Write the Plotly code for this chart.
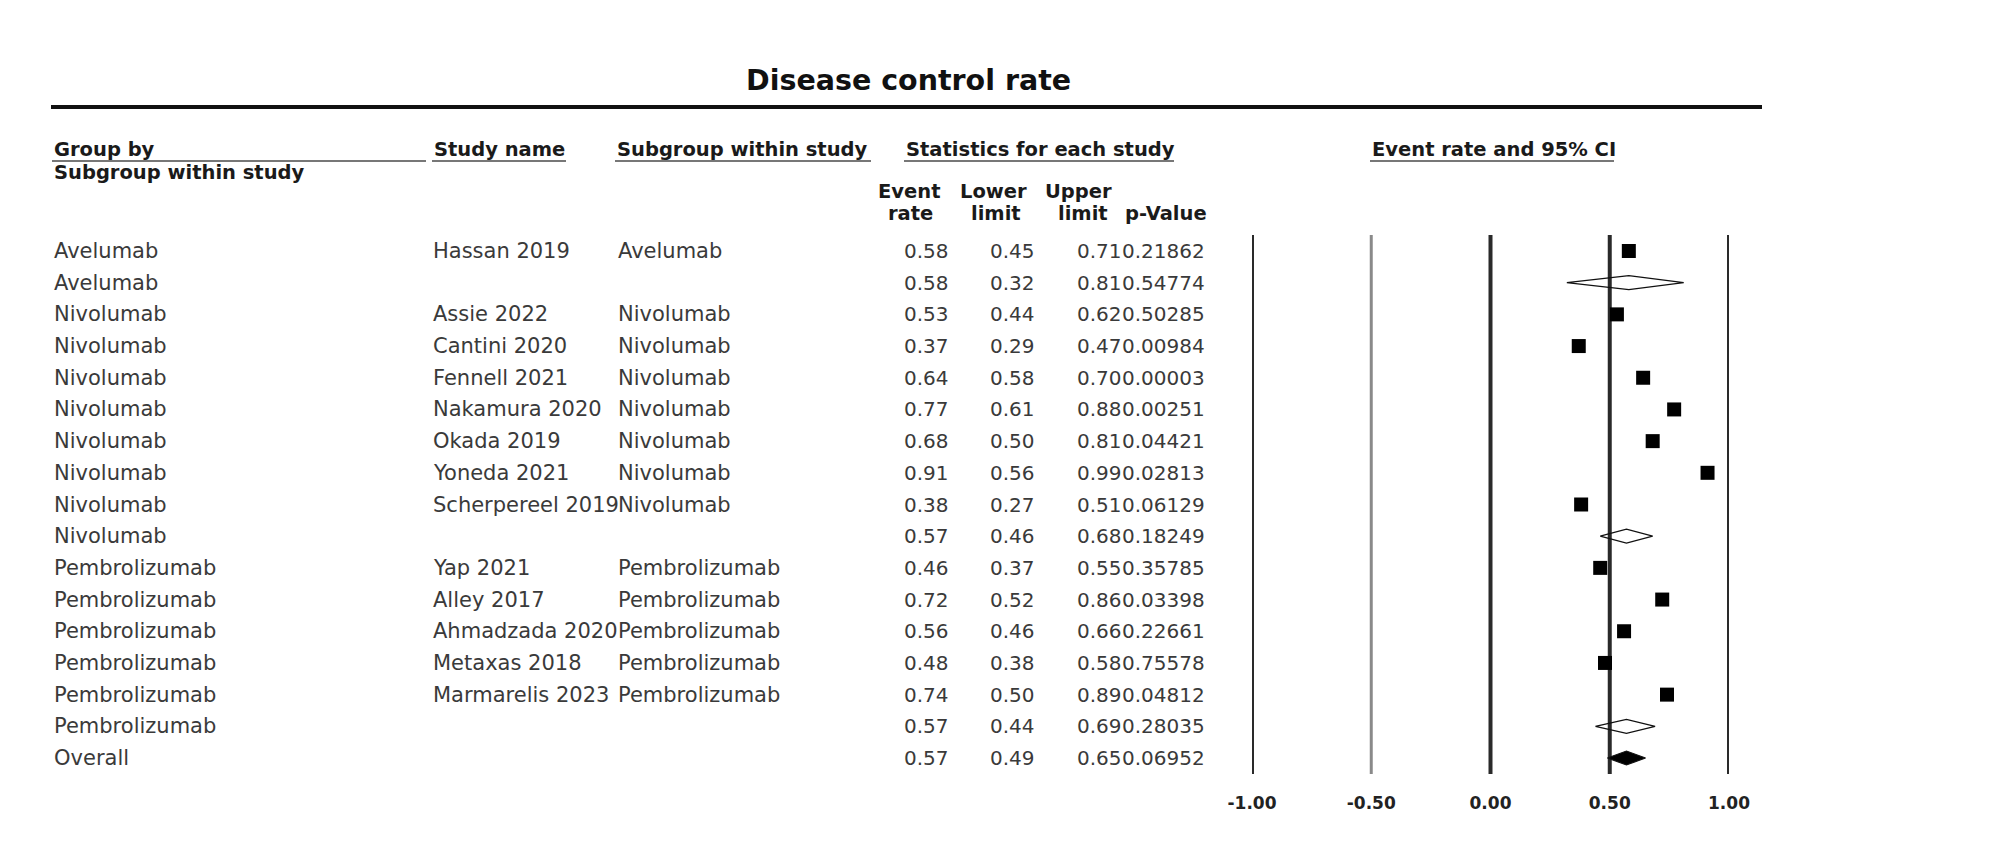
import plotly.graph_objects as go

# ---------------- data ----------------
groups = ["Avelumab", "Avelumab",
          "Nivolumab", "Nivolumab", "Nivolumab", "Nivolumab", "Nivolumab",
          "Nivolumab", "Nivolumab", "Nivolumab",
          "Pembrolizumab", "Pembrolizumab", "Pembrolizumab", "Pembrolizumab",
          "Pembrolizumab", "Pembrolizumab", "Overall"]
studies = ["Hassan 2019", "",
           "Assie 2022", "Cantini 2020", "Fennell 2021", "Nakamura 2020",
           "Okada 2019", "Yoneda 2021", "Scherpereel 2019", "",
           "Yap 2021", "Alley 2017", "Ahmadzada 2020", "Metaxas 2018",
           "Marmarelis 2023", "", ""]
subgroups = ["Avelumab", "",
             "Nivolumab", "Nivolumab", "Nivolumab", "Nivolumab", "Nivolumab",
             "Nivolumab", "Nivolumab", "",
             "Pembrolizumab", "Pembrolizumab", "Pembrolizumab", "Pembrolizumab",
             "Pembrolizumab", "", ""]
row_kind = ["study", "subtotal",
            "study", "study", "study", "study", "study", "study", "study", "subtotal",
            "study", "study", "study", "study", "study", "subtotal", "overall"]
event_rate = [0.58, 0.58, 0.53, 0.37, 0.64, 0.77, 0.68, 0.91, 0.38, 0.57,
              0.46, 0.72, 0.56, 0.48, 0.74, 0.57, 0.57]
lower_limit = [0.45, 0.32, 0.44, 0.29, 0.58, 0.61, 0.50, 0.56, 0.27, 0.46,
               0.37, 0.52, 0.46, 0.38, 0.50, 0.44, 0.49]
upper_limit = [0.71, 0.81, 0.62, 0.47, 0.70, 0.88, 0.81, 0.99, 0.51, 0.68,
               0.55, 0.86, 0.66, 0.58, 0.89, 0.69, 0.65]
p_value = [0.21862, 0.54774, 0.50285, 0.00984, 0.00003, 0.00251, 0.04421,
           0.02813, 0.06129, 0.18249, 0.35785, 0.03398, 0.22661, 0.75578,
           0.04812, 0.28035, 0.06952]
axis_ticks = [-1.0, -0.5, 0.0, 0.5, 1.0]
axis_ticktext = ["-1.00", "-0.50", "0.00", "0.50", "1.00"]

# ---------------- layout helpers ----------------
W, H = 2008, 863
FONT = "DejaVu Sans"
def px(x):
    return x / W
def py(y):
    return 1 - y / H

rows = list(range(len(groups)))
ROW0_Y, ROWN_Y = 251, 758
AX_TOP, AX_BOT = 235, 774
step = (ROWN_Y - ROW0_Y) / (len(rows) - 1)
y_top = -(ROW0_Y - AX_TOP) / step
y_bot = (len(rows) - 1) + (AX_BOT - ROWN_Y) / step

fig = go.Figure()

# study squares
st_idx = [i for i, k in enumerate(row_kind) if k == "study"]
fig.add_trace(go.Scatter(
    x=[event_rate[i] for i in st_idx], y=[rows[i] for i in st_idx],
    mode="markers", marker=dict(symbol="square", size=14, color="#000"),
    cliponaxis=False, hoverinfo="skip"))

# diamonds for subtotals / overall
HALF = 0.22
for i, k in enumerate(row_kind):
    if k == "study":
        continue
    r = rows[i]
    fig.add_trace(go.Scatter(
        x=[lower_limit[i], event_rate[i], upper_limit[i], event_rate[i], lower_limit[i]],
        y=[r, r - HALF, r, r + HALF, r],
        mode="lines", fill="toself",
        fillcolor="#000" if k == "overall" else "rgba(255,255,255,0)",
        line=dict(color="#111", width=1.2),
        cliponaxis=False, hoverinfo="skip"))

ann = []
body = dict(family=FONT, size=21, color="#3a3a3a")
nums = dict(family=FONT, size=20, color="#3a3a3a")
bold = dict(family=FONT, size=19.5, color="#1a1a1a")

def txt(x, y, s, font, xanchor="left", yref="y"):
    ann.append(dict(x=px(x), xref="paper", y=y if yref == "y" else py(y), yref=yref,
                    text=s, showarrow=False, xanchor=xanchor, yanchor="middle",
                    font=font))

for i in rows:
    txt(52, rows[i], groups[i], body)
    if studies[i]:
        txt(431, rows[i], studies[i], body)
    if subgroups[i]:
        txt(616, rows[i], subgroups[i], body)
    txt(951, rows[i], f"{event_rate[i]:.2f}", nums, "right")
    txt(1037, rows[i], f"{lower_limit[i]:.2f}", nums, "right")
    txt(1124, rows[i], f"{upper_limit[i]:.2f}", nums, "right")
    txt(1207, rows[i], f"{p_value[i]:.5f}", nums, "right")

# title
txt(908, 80, "<b>Disease control rate</b>", dict(family=FONT, size=28.5, color="#111"),
    "center", "paper")
# headers
txt(52, 150, "<b>Group by</b>", bold, yref="paper")
txt(52, 172, "<b>Subgroup within study</b>", bold, yref="paper")
txt(432, 150, "<b>Study name</b>", bold, yref="paper")
txt(615, 150, "<b>Subgroup within study</b>", bold, yref="paper")
txt(904, 150, "<b>Statistics for each study</b>", bold, yref="paper")
txt(1370, 150, "<b>Event rate and 95% CI</b>", bold, yref="paper")
txt(909, 191, "<b>Event</b>", bold, "center", "paper")
txt(910, 213, "<b>rate</b>", bold, "center", "paper")
txt(993, 191, "<b>Lower</b>", bold, "center", "paper")
txt(996, 213, "<b>limit</b>", bold, "center", "paper")
txt(1078, 191, "<b>Upper</b>", bold, "center", "paper")
txt(1083, 213, "<b>limit</b>", bold, "center", "paper")
txt(1166, 213, "<b>p-Value</b>", bold, "center", "paper")

shapes = []
# title rule
shapes.append(dict(type="line", xref="paper", yref="paper", x0=px(51), x1=px(1762),
                   y0=py(107), y1=py(107), line=dict(color="#111", width=4)))
# header underlines
for x0, x1 in [(52, 426), (432, 566), (615, 871), (904, 1174), (1370, 1614)]:
    shapes.append(dict(type="line", xref="paper", yref="paper", x0=px(x0), x1=px(x1),
                       y0=py(161), y1=py(161), line=dict(color="#777", width=2)))
# vertical reference lines on the forest axis
for v in axis_ticks:
    shapes.append(dict(type="line", xref="x", yref="paper", x0=v, x1=v,
                       y0=py(AX_BOT), y1=py(AX_TOP), layer="below",
                       line=dict(color="#8a8a8a" if v == -0.5 else "#2a2a2a",
                                 width=3 if v == -0.5 else 4)))

fig.update_layout(
    width=W, height=H, autosize=False,
    margin=dict(l=0, r=0, t=0, b=0, pad=0, autoexpand=False),
    paper_bgcolor="white", plot_bgcolor="white", showlegend=False,
    annotations=ann, shapes=shapes,
    xaxis=dict(domain=[px(1252), px(1729)], range=[-1, 1],
               tickvals=axis_ticks, ticktext=[f"<b>{t}</b>" for t in axis_ticktext],
               tickfont=dict(family=FONT, size=17, color="#222"),
               showgrid=False, zeroline=False, showline=False, ticks="",
               ticklabelstandoff=17, fixedrange=True, automargin=False),
    yaxis=dict(domain=[py(AX_BOT), py(AX_TOP)], range=[y_bot, y_top],
               visible=False, fixedrange=True, automargin=False),
)

fig.write_html("out.html", config={"displayModeBar": False},
               post_script="document.body.style.margin='0';document.body.style.overflow='hidden';")
